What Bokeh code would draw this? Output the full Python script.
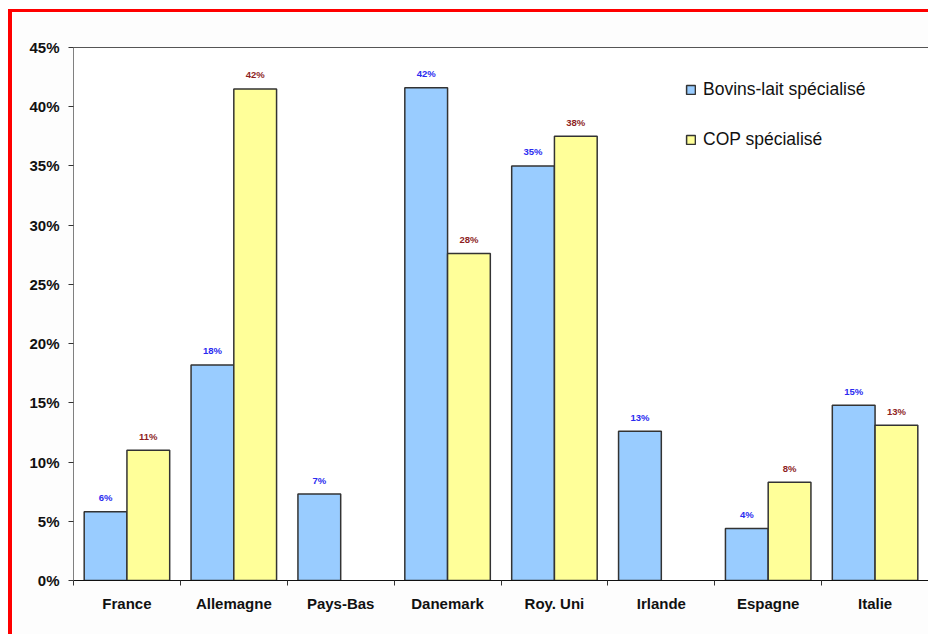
from bokeh.plotting import figure
from bokeh.models import ColumnDataSource, Range1d, FixedTicker, Legend, LegendItem
from bokeh.core.properties import value
from bokeh.embed import file_html
from bokeh.resources import INLINE

countries = ["France", "Allemagne", "Pays-Bas", "Danemark", "Roy. Uni", "Irlande", "Espagne", "Italie"]
bovins_lait = [5.8, 18.2, 7.3, 41.6, 35.0, 12.6, 4.4, 14.8]
cop = [11.0, 41.5, None, 27.6, 37.5, None, 8.3, 13.1]
series_names = ["Bovins-lait spécialisé", "COP spécialisé"]
y_ticks = [0, 5, 10, 15, 20, 25, 30, 35, 40, 45]

FONT = "Liberation Sans"
BLUE = "#99CCFF"
YELLOW = "#FFFF99"
BLUE_TXT = "#2B2BF0"
RED_TXT = "#8E1F1F"

W, H = 920, 625
p = figure(width=W, height=H, output_backend="svg", toolbar_location=None,
           x_range=Range1d(0, len(countries)), y_range=Range1d(0, 45),
           min_border_left=61, min_border_right=4, min_border_top=35, min_border_bottom=57)
p.styles = {"border-left": "4px solid #ff0000", "border-top": "3px solid #ff0000",
            "margin-left": "8px", "margin-top": "9px"}
p.background_fill_color = "white"
p.border_fill_color = "#fdfdfd"
p.outline_line_color = "#555555"
p.outline_line_width = 1
p.xgrid.visible = False
p.ygrid.visible = False

def build(vals, offset):
    xs, tops, labels = [], [], []
    for i, v in enumerate(vals):
        if v is None:
            continue
        xs.append(i + 0.5 + offset)
        tops.append(v)
        labels.append(f"{int(v + 0.5)}%")
    return ColumnDataSource(dict(x=xs, top=tops, label=labels))

src_b = build(bovins_lait, -0.2)
src_c = build(cop, 0.2)

r_b = p.vbar(x="x", top="top", bottom=0, width=0.4, source=src_b,
             fill_color=BLUE, line_color="#333333", line_width=1.5)
r_c = p.vbar(x="x", top="top", bottom=0, width=0.4, source=src_c,
             fill_color=YELLOW, line_color="#333333", line_width=1.5)

for src, col in ((src_b, BLUE_TXT), (src_c, RED_TXT)):
    p.text(x="x", y="top", text="label", source=src, text_align="center",
           text_baseline="alphabetic", y_offset=-14, text_color=col,
           text_font=value(FONT), text_font_style="bold", text_font_size="9.5px")

# y axis
ya = p.yaxis[0]
ya.ticker = FixedTicker(ticks=y_ticks)
ya.major_label_overrides = {t: f"{t}%" for t in y_ticks}
ya.axis_line_color = "#808080"
ya.major_tick_out = 5
ya.major_tick_in = 0
ya.major_tick_line_color = "#333333"
ya.minor_tick_line_color = None
ya.major_label_standoff = 9
ya.major_label_text_font = FONT
ya.major_label_text_font_style = "bold"
ya.major_label_text_font_size = "15px"
ya.major_label_text_color = "#111111"

# x axis: labels at centres, ticks at boundaries
xa = p.xaxis[0]
xa.ticker = FixedTicker(ticks=[i + 0.5 for i in range(len(countries))],
                        minor_ticks=list(range(len(countries) + 1)))
xa.major_label_overrides = {i + 0.5: c for i, c in enumerate(countries)}
xa.axis_line_color = "#111111"
xa.major_tick_out = 0
xa.major_tick_in = 0
xa.minor_tick_out = 5
xa.minor_tick_in = 0
xa.minor_tick_line_color = "#333333"
xa.major_label_standoff = 9
xa.major_label_text_font = FONT
xa.major_label_text_font_style = "bold"
xa.major_label_text_font_size = "15px"
xa.major_label_text_color = "#111111"

legend = Legend(items=[LegendItem(label=series_names[0], renderers=[r_b]),
                       LegendItem(label=series_names[1], renderers=[r_c])],
                location=(612, 430), orientation="vertical",
                padding=0, margin=0, spacing=29, label_height=20, glyph_height=11,
                glyph_width=11, label_standoff=7,
                label_text_font=FONT, label_text_font_size="17.5px", label_text_color="#111111",
                background_fill_alpha=0, border_line_color=None)
p.add_layout(legend, "center")

open("out.html", "w").write(file_html(p, INLINE))
